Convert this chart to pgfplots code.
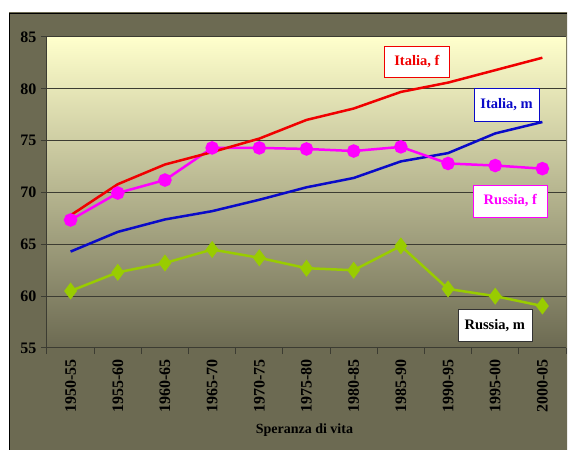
\documentclass[border=0pt]{standalone}
\usepackage{fontspec}
\setmainfont{Liberation Serif}
\usepackage{pgfplots}
\pgfplotsset{compat=1.18}
\definecolor{pale}{RGB}{255,255,204}
\definecolor{olivebg}{RGB}{108,106,82}
\definecolor{ital}{RGB}{240,0,0}
\definecolor{italm}{RGB}{10,10,200}
\definecolor{rusf}{RGB}{255,0,255}
\definecolor{rusm}{RGB}{153,204,0}
\definecolor{gridc}{RGB}{60,60,50}
\newcommand\lf{\fontsize{14.5}{16}\selectfont\bfseries}
\begin{document}
\begin{tikzpicture}[x=1pt,y=1pt]
\path[use as bounding box] (0,0) rectangle (571,450);
\shade[shading=axis, top color=olivebg, middle color=pale, bottom color=olivebg, shading angle=-45] (9,-5) rectangle (567,437);
\draw[black, line width=0.8pt] (9,-5) -- (9,437) -- (567,437);
\begin{axis}[
  at={(47pt,102pt)}, anchor=south west,
  scale only axis, width=519pt, height=311pt,
  xmin=-0.5, xmax=10.5, ymin=55, ymax=85,
  ytick={55,60,...,85},
  xtick={-0.5,0.5,...,10.5}, xticklabels={},
  extra x ticks={0,1,...,10},
  extra x tick labels={1950-55,1955-60,1960-65,1965-70,1970-75,1975-80,1980-85,1985-90,1990-95,1995-00,2000-05},
  extra x tick style={major tick length=0pt, xmajorgrids=false},
  axis x line*=bottom, axis y line*=left,
  axis line style={-, gridc, line width=1pt},
  tick align=outside, major tick length=6pt,
  tick style={gridc, line width=1pt},
  ymajorgrids, grid style={gridc, line width=1pt},
  axis background/.style={top color=pale, bottom color=olivebg},
  tick label style={font=\fontsize{16}{18}\selectfont\bfseries},
  /pgf/number format/assume math mode=true,
  xticklabel style={yshift=-8pt, rotate=90, anchor=east},
  yticklabel style={xshift=-1pt},
  xlabel={Speranza di vita},
  xlabel style={font=\fontsize{14}{16}\selectfont\bfseries, at={(axis description cs:0.496,0)}, anchor=center, yshift=-82pt},
  clip=false,
]
\addplot[color=rusm, line width=2.5pt, mark=diamond*, mark size=6.5pt] coordinates {
(0,60.5) (1,62.3) (2,63.2) (3,64.5) (4,63.7) (5,62.7) (6,62.5) (7,64.85) (8,60.7) (9,60.0) (10,59.05)};
\addplot[color=italm, line width=2.5pt] coordinates {
(0,64.3) (1,66.2) (2,67.4) (3,68.2) (4,69.3) (5,70.5) (6,71.4) (7,73.0) (8,73.8) (9,75.7) (10,76.8)};
\addplot[color=rusf, line width=2.5pt, mark=*, mark size=5.5pt] coordinates {
(0,67.35) (1,69.95) (2,71.2) (3,74.3) (4,74.3) (5,74.2) (6,74.0) (7,74.4) (8,72.8) (9,72.6) (10,72.3)};
\addplot[color=ital, line width=2.5pt] coordinates {
(0,67.8) (1,70.8) (2,72.7) (3,73.9) (4,75.2) (5,77.0) (6,78.1) (7,79.7) (8,80.6) (9,81.8) (10,83.0)};
\node[draw=ital, fill=white, text=ital, font=\lf, minimum width=65pt, minimum height=31pt] at (axis cs:7.34,82.6) {Italia, f};
\node[draw=italm, fill=white, text=italm, font=\lf, minimum width=65pt, minimum height=33pt] at (axis cs:9.24,78.44) {Italia, m};
\node[draw=rusf, fill=white, text=rusf, font=\lf, minimum width=74pt, minimum height=32pt] at (axis cs:9.32,69.2) {Russia, f};
\node[draw=black!80, fill=white, text=black, font=\lf, minimum width=74pt, minimum height=32pt] at (axis cs:8.99,57.2) {Russia, m};
\end{axis}
\end{tikzpicture}
\end{document}
